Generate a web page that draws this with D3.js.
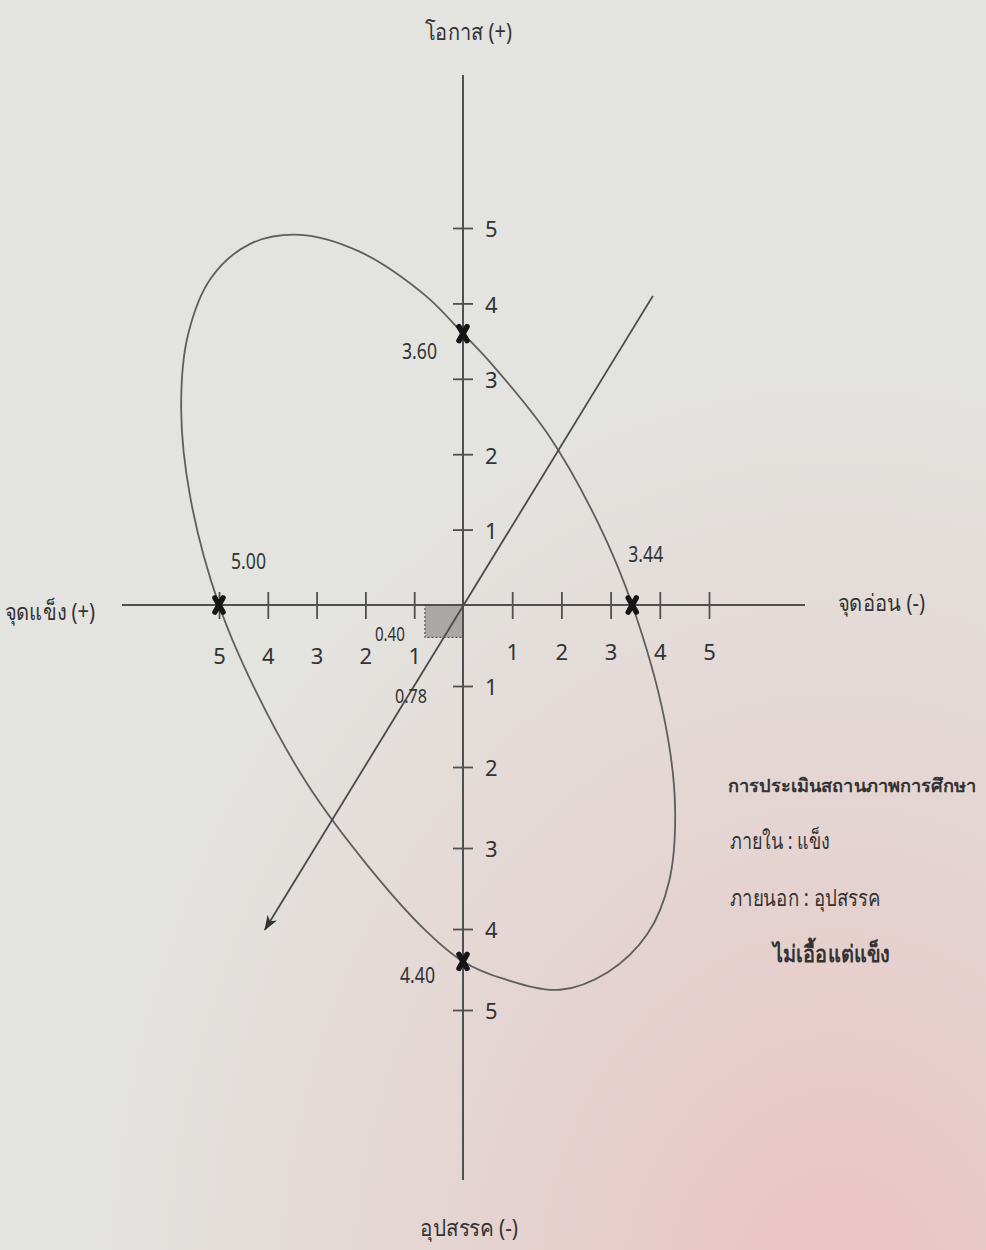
<!DOCTYPE html>
<html>
<head>
<meta charset="utf-8">
<script src="https://cdn.jsdelivr.net/npm/d3@7"></script>
<style>
  html, body { margin: 0; padding: 0; background: #e4e4e0; }
  svg { display: block; }
  text { font-family: "Liberation Sans Narrow", "Noto Sans", "DejaVu Sans Condensed", sans-serif; fill: #333; }
</style>
</head>
<body>
<div id="viz"></div>
<script>
// axis ticks (signed position, printed without sign)
var xTickValues = [-5, -4, -3, -2, -1, 1, 2, 3, 4, 5];
var yTickValues = [-5, -4, -3, -2, -1, 1, 2, 3, 4, 5];

// axis titles
var axisTitles = {top: "โอกาส (+)", bottom: "อุปสรรค (-)", left: "จุดแข็ง (+)", right: "จุดอ่อน (-)"};

// scored points on the axes
var scoreX = [-5.00, 0, 3.44, 0];
var scoreY = [0, 3.60, 0, -4.40];
var scoreLabels = ["5.00", "3.60", "3.44", "4.40"];

// outline of the ellipse (x, y in axis units)
var ellipseX = [-5.16, -4.36, -3.34, -2.13, -0.78, 0, 0.55, 1.71, 2.76, 3.44, 4.09, 4.31, 4.19, 3.75, 2.95, 1.97, 0.85, 0, -0.78, -1.95, -3.18, -4.24, -5.00, -5.59, -5.78, -5.64];
var ellipseY = [4.34, 4.79, 4.91, 4.69, 4.11, 3.60, 3.22, 2.28, 1.07, 0, -1.40, -2.48, -3.41, -4.06, -4.53, -4.75, -4.62, -4.40, -4.01, -3.22, -2.22, -1.07, 0, 1.42, 2.59, 3.58];

// direction arrow (start, end)
var arrowX = [3.86, -4.06];
var arrowY = [4.10, -4.01];

// resulting shaded box
var boxX = [-0.78, 0];
var boxY = [-0.40, 0];
var boxLabels = ["0.40", "0.78"];

// summary note
var noteLines = ["การประเมินสถานภาพการศึกษา", "ภายใน : แข็ง", "ภายนอก : อุปสรรค", "ไม่เอื้อแต่แข็ง"];

var width = 986, height = 1250;

// the photographed sheet is a little stretched, so each half-axis has its own range
var x = d3.scaleLinear().domain([-7, -5, 0, 5, 7]).range([122, 219, 463, 709, 805]);
var y = d3.scaleLinear().domain([-7.1, -5, 0, 5, 7]).range([1180, 1010, 605, 228, 75]);

var svg = d3.select("#viz")
            .append("svg")
            .attr("width", width)
            .attr("height", height);

// paper tone, with the pinkish light at the bottom right of the photo
var defs = svg.append("defs");
var grad = defs.append("radialGradient")
    .attr("id", "paper")
    .attr("cx", "0.85").attr("cy", "1.05").attr("r", "0.75");
grad.append("stop").attr("offset", "0").attr("stop-color", "#ecc2c3");
grad.append("stop").attr("offset", "0.45").attr("stop-color", "#e5d2d0");
grad.append("stop").attr("offset", "1").attr("stop-color", "#e3e3df");

defs.append("marker")
    .attr("id", "arrowhead")
    .attr("viewBox", "0 0 14 10")
    .attr("refX", 13).attr("refY", 5)
    .attr("markerWidth", 16).attr("markerHeight", 11)
    .attr("markerUnits", "userSpaceOnUse")
    .attr("orient", "auto")
  .append("path")
    .attr("d", "M0,0 L14,5 L0,10 L4,5 Z")
    .attr("fill", "#333");

svg.append("rect")
    .attr("width", width).attr("height", height)
    .attr("fill", "url(#paper)");

var g = svg.append("g");

// shaded box near the origin
g.append("rect")
    .attr("x", x(boxX[0]))
    .attr("y", y(boxY[1]))
    .attr("width", x(boxX[1]) - x(boxX[0]))
    .attr("height", y(boxY[0]) - y(boxY[1]))
    .attr("fill", "#a9a8a4")
    .attr("stroke", "#555")
    .attr("stroke-width", 1.2)
    .attr("stroke-dasharray", "2,2");

// main axes
g.append("line")
    .attr("x1", x(-7)).attr("x2", x(7))
    .attr("y1", y(0)).attr("y2", y(0))
    .attr("stroke", "#505050").attr("stroke-width", 2);
g.append("line")
    .attr("x1", x(0)).attr("x2", x(0))
    .attr("y1", y(7)).attr("y2", y(-7.1))
    .attr("stroke", "#505050").attr("stroke-width", 2);

// x ticks cross the axis
var xAxis = g.append("g")
    .attr("transform", "translate(0," + y(0) + ")")
    .call(d3.axisBottom(x).tickValues(xTickValues).tickFormat(function(d) { return Math.abs(d); }).tickSize(13));
xAxis.select(".domain").remove();
xAxis.selectAll(".tick line").attr("y1", -13).attr("y2", 14).attr("stroke", "#505050").attr("stroke-width", 1.8);
xAxis.selectAll(".tick text")
    .attr("y", function(d) { return d < 0 ? 59 : 55; }).attr("dy", 0)
    .style("font-size", "22px")
    .attr("fill", "#333");

// y ticks cross the axis
var yAxis = g.append("g")
    .attr("transform", "translate(" + x(0) + ",0)")
    .call(d3.axisRight(y).tickValues(yTickValues).tickFormat(function(d) { return Math.abs(d); }).tickSize(10));
yAxis.select(".domain").remove();
yAxis.selectAll(".tick line").attr("x1", -10).attr("x2", 10).attr("stroke", "#505050").attr("stroke-width", 1.8);
yAxis.selectAll(".tick text")
    .attr("x", 22)
    .attr("dy", "0.4em")
    .style("font-size", "22px")
    .attr("fill", "#333");

// the ellipse
var ellipse = d3.line()
    .x(function(d) { return x(d[0]); })
    .y(function(d) { return y(d[1]); })
    .curve(d3.curveCatmullRomClosed.alpha(0.5));

g.append("path")
    .datum(d3.zip(ellipseX, ellipseY))
    .attr("d", ellipse)
    .attr("fill", "none")
    .attr("stroke", "#5e5e5e")
    .attr("stroke-width", 1.8);

// diagonal arrow
g.append("line")
    .attr("x1", x(arrowX[0])).attr("y1", y(arrowY[0]))
    .attr("x2", x(arrowX[1])).attr("y2", y(arrowY[1]))
    .attr("stroke", "#4a4a4a")
    .attr("stroke-width", 1.8)
    .attr("marker-end", "url(#arrowhead)");

// bold X markers at the scores
var marks = g.selectAll(".score")
    .data(d3.zip(scoreX, scoreY))
    .enter()
    .append("g")
    .attr("class", "score")
    .attr("transform", function(d) { return "translate(" + x(d[0]) + "," + y(d[1]) + ")"; });
marks.append("path")
    .attr("d", "M-4,-7 L4,7 M4,-7 L-4,7")
    .attr("stroke", "#151515")
    .attr("stroke-width", 5.5)
    .attr("stroke-linecap", "round");

// score labels
var scoreOffsets = [[29, -44], [-44, 18], [13, -51], [-46, 14]];
g.selectAll(".score-label")
    .data(scoreLabels)
    .enter()
    .append("text")
    .attr("class", "score-label")
    .attr("x", function(d, i) { return x(scoreX[i]) + scoreOffsets[i][0] - 17; })
    .attr("y", function(d, i) { return y(scoreY[i]) + scoreOffsets[i][1]; })
    .attr("dy", "0.35em")
    .attr("textLength", 35)
    .attr("lengthAdjust", "spacingAndGlyphs")
    .style("font-size", "22px")
    .text(function(d) { return d; });

// box labels
g.append("text")
    .attr("x", x(boxX[0]) - 50).attr("y", y(boxY[1]) + 36)
    .attr("textLength", 30).attr("lengthAdjust", "spacingAndGlyphs")
    .style("font-size", "19px")
    .text(boxLabels[0]);
g.append("text")
    .attr("x", x(boxX[0]) - 30).attr("y", y(boxY[0]) + 66)
    .attr("textLength", 32).attr("lengthAdjust", "spacingAndGlyphs")
    .style("font-size", "19px")
    .text(boxLabels[1]);

// axis titles
g.append("text").attr("x", 425).attr("y", 40)
    .attr("textLength", 87).attr("lengthAdjust", "spacingAndGlyphs")
    .style("font-size", "23px").text(axisTitles.top);
g.append("text").attr("x", 420).attr("y", 1236)
    .attr("textLength", 98).attr("lengthAdjust", "spacingAndGlyphs")
    .style("font-size", "23px").text(axisTitles.bottom);
g.append("text").attr("x", 5).attr("y", y(0) + 15)
    .attr("textLength", 90).attr("lengthAdjust", "spacingAndGlyphs")
    .style("font-size", "23px").text(axisTitles.left);
g.append("text").attr("x", 838).attr("y", y(0) + 6)
    .attr("textLength", 87).attr("lengthAdjust", "spacingAndGlyphs")
    .style("font-size", "23px").text(axisTitles.right);

// note on the right
var noteY = [792, 849, 906, 962];
var noteX = [728, 730, 730, 773];
var noteW = [248, 100, 150, 117];
var noteSize = [18, 23, 23, 23];
g.selectAll(".note")
    .data(noteLines)
    .enter()
    .append("text")
    .attr("class", "note")
    .attr("x", function(d, i) { return noteX[i]; })
    .attr("y", function(d, i) { return noteY[i]; })
    .attr("textLength", function(d, i) { return noteW[i]; })
    .attr("lengthAdjust", "spacingAndGlyphs")
    .style("font-size", function(d, i) { return noteSize[i] + "px"; })
    .style("font-weight", function(d, i) { return (i == 0 || i == 3) ? "bold" : "normal"; })
    .attr("fill", "#222")
    .text(function(d) { return d; });
</script>
</body>
</html>
